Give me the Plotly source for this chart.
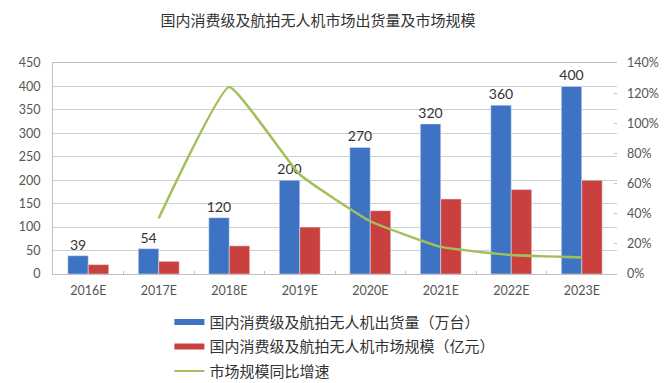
import plotly.graph_objects as go

categories = ["2016E", "2017E", "2018E", "2019E", "2020E", "2021E", "2022E", "2023E"]
shipments = [39, 54, 120, 200, 270, 320, 360, 400]          # 万台
market_size = [20, 27, 60, 100, 135, 160, 180, 200]          # 亿元
growth_pct = [None, 37, 124, 66, 35, 18, 12.6, 11]           # %

name_ship = "国内消费级及航拍无人机出货量（万台）"
name_market = "国内消费级及航拍无人机市场规模（亿元）"
name_growth = "市场规模同比增速"
title_text = "国内消费级及航拍无人机市场出货量及市场规模"

BLUE = "#3E73C4"
RED = "#C9403E"
GREEN = "#A2C05C"
FONT = "Lato, Noto Sans CJK SC, sans-serif"
CJK = "Noto Sans CJK SC, sans-serif"

W, H = 659, 375  # page body has an 8px margin

fig = go.Figure()
fig.add_trace(go.Bar(x=categories, y=shipments, name=name_ship, marker_color=BLUE,
                     text=shipments, textposition="outside", cliponaxis=False,
                     constraintext="none",
                     textfont=dict(size=14, color="#333333", family=FONT),
                     showlegend=False))
fig.add_trace(go.Bar(x=categories, y=market_size, name=name_market, marker_color=RED,
                     showlegend=False))
fig.add_trace(go.Scatter(x=categories, y=growth_pct, name=name_growth, yaxis="y2",
                         mode="lines", line=dict(color=GREEN, width=2.5, shape="spline", smoothing=0.35),
                         showlegend=False))
# legend entries
fig.add_trace(go.Scatter(x=[None], y=[None], mode="lines", name=name_ship, legendgroup="a",
                         line=dict(color=BLUE, width=6)))
fig.add_trace(go.Scatter(x=[None], y=[None], mode="lines", name=name_market, legendgroup="b",
                         line=dict(color=RED, width=6)))
fig.add_trace(go.Scatter(x=[None], y=[None], mode="lines", name=name_growth, legendgroup="c",
                         line=dict(color=GREEN, width=2)))

fig.update_layout(
    width=W, height=H,
    margin=dict(l=45, r=50, t=55, b=109, autoexpand=False),
    paper_bgcolor="white", plot_bgcolor="white",
    barmode="group", bargap=0.42, bargroupgap=0,
    title=dict(text=title_text, x=310/W, xref="container", xanchor="center",
               y=1-13/H, yref="container", yanchor="middle",
               font=dict(family=CJK, size=15, color="#333333")),
    xaxis=dict(type="category", showline=True, linecolor="#BFBFBF", mirror=True,
               ticks="inside", ticklen=3, tickcolor="#BFBFBF", tickson="boundaries",
               automargin=False, ticklabelstandoff=5,
               tickfont=dict(family=FONT, size=12.5, color="#555555")),
    yaxis=dict(range=[0, 450], dtick=50, showgrid=True, gridcolor="#CFCFCF",
               showline=True, linecolor="#BFBFBF", zeroline=False, automargin=False,
               ticklabelstandoff=9,
               tickfont=dict(family=FONT, size=12.5, color="#555555")),
    yaxis2=dict(range=[0, 140], dtick=20, overlaying="y", side="right", ticksuffix="%",
                showgrid=False, zeroline=False, ticks="inside", ticklen=3, tickcolor="#BFBFBF",
                automargin=False, ticklabelstandoff=9,
                tickfont=dict(family=FONT, size=12.5, color="#555555")),
    legend=dict(x=136/W, xanchor="left", y=-0.15, yanchor="top", orientation="v",
                font=dict(family=CJK, size=15, color="#333333"), traceorder="grouped",
                bgcolor="rgba(0,0,0,0)", tracegroupgap=2),
)

fig.write_html("out.html")
